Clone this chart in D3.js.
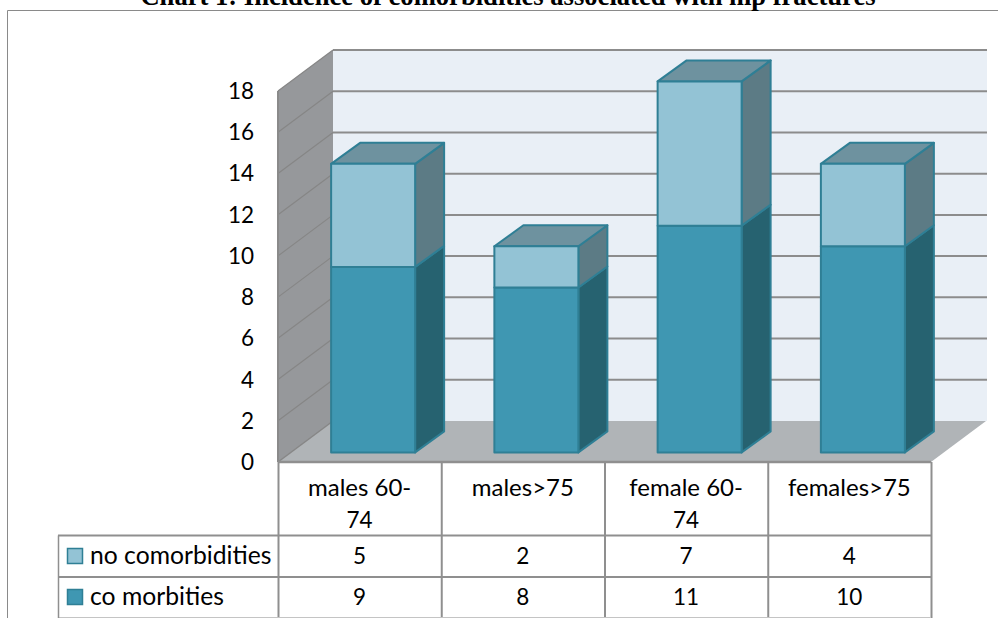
<!DOCTYPE html>
<html><head><meta charset="utf-8">
<script src="https://cdn.jsdelivr.net/npm/d3@7"></script>
<style>html,body{margin:0;padding:0;background:#fff}svg{display:block}</style></head>
<body><svg id="c" width="998" height="618"></svg>
<script>
const titleText = "Chart 1: Incidence of comorbidities associated with hip fractures";
const categories = ["males 60-74","males>75","female 60-74","females>75"];
const categoryLines = [["males 60-","74"],["males>75"],["female 60-","74"],["females>75"]];
const noComorbidities = [5,2,7,4];
const coMorbities = [9,8,11,10];
const seriesNames = ["no comorbidities","co morbities"];
const yTicks = [0,2,4,6,8,10,12,14,16,18];

const svg = d3.select("#c");
const font = "Lato, 'Open Sans', sans-serif";
const y = d3.scaleLinear().domain([0,18]).range([462,91]);
const x = d3.scaleBand().domain(categories).range([278,931]);
const wallDx = 55, wallDy = -41;
const barInsetX = 13.5, barInsetY = -9.6;
const barW = 84, barDx = 29, barDy = -21;
const poly = (pts,fill,stroke,sw)=>svg.append("polygon")
  .attr("points",pts.map(p=>p.join(",")).join(" "))
  .attr("fill",fill).attr("stroke",stroke||"none").attr("stroke-width",sw||0).attr("stroke-linejoin","round");

// frame
svg.append("path").attr("d","M7.5,618V10.5H998").attr("fill","none").attr("stroke","#8a8a8a").attr("stroke-width",1);

// title
svg.append("text").attr("x",508).attr("y",5).attr("text-anchor","middle")
  .attr("font-family","'Liberation Serif',serif").attr("font-weight","bold").attr("font-size",26.6).attr("fill","#000").text(titleText);

// box
const X0 = 278, X1 = 931;
poly([[X0+wallDx,y(18)+wallDy],[987,y(18)+wallDy],[987,y(0)+wallDy],[X0+wallDx,y(0)+wallDy]],"#e9eff6");
poly([[X0,y(0)],[X0+wallDx,y(0)+wallDy],[X0+wallDx,y(18)+wallDy],[X0,y(18)]],"#96989b");
poly([[X0,y(0)],[X1,y(0)],[X1+wallDx,y(0)+wallDy],[X0+wallDx,y(0)+wallDy]],"#b0b4b7");

// gridlines
yTicks.forEach(t=>{
  if(t>0) svg.append("line").attr("x1",X0+wallDx).attr("x2",X1+wallDx+1)
    .attr("y1",y(t)+wallDy).attr("y2",y(t)+wallDy).attr("stroke","#8c8c8c").attr("stroke-width",2);
  svg.append("line").attr("x1",X0).attr("x2",X0+wallDx)
    .attr("y1",y(t)).attr("y2",y(t)+wallDy).attr("stroke","#868686").attr("stroke-width",t==0?1.5:1.2);
});
svg.append("line").attr("x1",X0).attr("x2",X0).attr("y1",y(18)).attr("y2",y(0)).attr("stroke","#8a8a8a").attr("stroke-width",2);

// axis labels
yTicks.forEach(t=>svg.append("text").attr("x",254).attr("y",y(t)+8).attr("text-anchor","end")
  .attr("font-family",font).attr("font-size",22.5).attr("fill","#000").text(t));

// bars
const stroke = "#2f7f95";
function seg(cat,v0,v1,front,side,top){
  const xl = x(cat)+x.bandwidth()/2+barInsetX-barW/2, xr = xl+barW;
  const yb = y(v0)+barInsetY, yt = y(v1)+barInsetY;
  poly([[xr,yb],[xr+barDx,yb+barDy],[xr+barDx,yt+barDy],[xr,yt]],side,stroke,2);
  if(top) poly([[xl,yt],[xr,yt],[xr+barDx,yt+barDy],[xl+barDx,yt+barDy]],top,stroke,2);
  poly([[xl,yb],[xr,yb],[xr,yt],[xl,yt]],front,stroke,2);
}
categories.forEach((c,i)=>{
  seg(c,0,coMorbities[i],"#3f97b2","#266270");
  seg(c,coMorbities[i],coMorbities[i]+noComorbidities[i],"#93c3d5","#5c7b85","#6e929f");
});

// data table
const rowY = [462,535.5,577,618];
const colX = [278.5,...categories.map(c=>x(c)+x.bandwidth()+0.5)];
const gridC = "#8f8f8f";
const ln = (x1,y1,x2,y2,w,c)=>svg.append("line").attr("x1",x1).attr("y1",y1).attr("x2",x2).attr("y2",y2).attr("stroke",c||gridC).attr("stroke-width",w||2);
colX.forEach(cx=>ln(cx,rowY[0],cx,618));
ln(278,rowY[0],X1,rowY[0],2.5);
ln(58,rowY[1],X1,rowY[1]); ln(58,rowY[2],X1,rowY[2]); ln(58,617.5,X1,617.5,1,"#c4c4c4");
ln(58.5,rowY[1],58.5,618,1.5);
const txt=(tx,ty,s,a,fs)=>svg.append("text").attr("x",tx).attr("y",ty).attr("text-anchor",a||"middle")
  .attr("font-family",font).attr("font-size",fs||24).attr("fill","#000").text(s);
categories.forEach((c,i)=>{
  const cx=x(c)+x.bandwidth()/2;
  categoryLines[i].forEach((l,j)=>txt(cx,496+j*31.5,l,"middle",j?22.5:24));
  txt(cx,564,noComorbidities[i],"middle",22.5);
  txt(cx,605,coMorbities[i],"middle",22.5);
});
// legend
[[0,"#93c3d5",548.5],[1,"#3f97b2",589.5]].forEach(([i,col,ly])=>{
  svg.append("rect").attr("x",67.5).attr("y",ly).attr("width",15).attr("height",15).attr("fill",col).attr("stroke",stroke).attr("stroke-width",1.5);
  txt(90,i?605:564,seriesNames[i],"start",24.7);
});
</script></body></html>
